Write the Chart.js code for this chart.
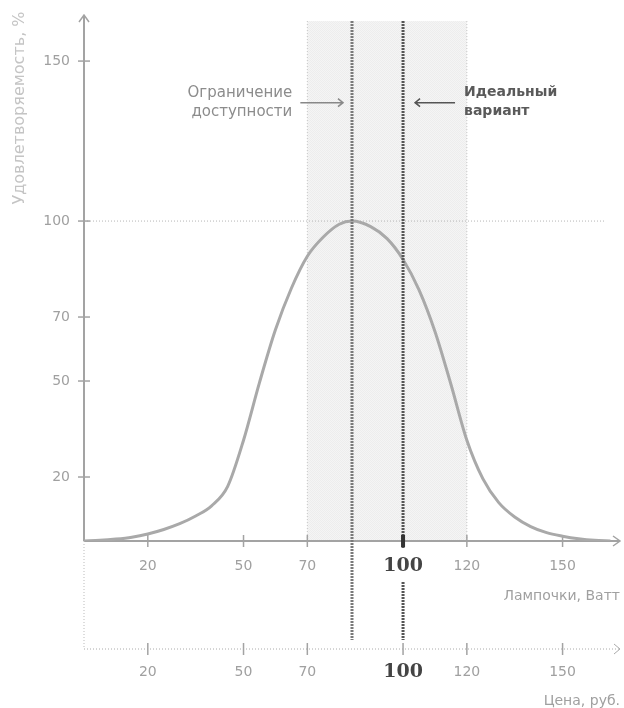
<!DOCTYPE html>
<html>
<head>
<meta charset="utf-8">
<script src="https://cdn.jsdelivr.net/npm/chart.js@4/dist/chart.umd.min.js"></script>
<style>
  html, body { margin: 0; padding: 0; background: #fff; }
  canvas { display: block; }
</style>
</head>
<body>
<canvas id="chart" width="624" height="708"></canvas>
<script>
// кривая удовлетворяемости: мощность лампочки (Вт) -> %
var watts        = [0, 5, 10, 15, 20, 25, 30, 35, 40, 45, 50, 55, 60, 65, 70, 75, 80, 84, 90, 95, 100, 105, 110, 115, 120, 125, 130, 135, 140, 145, 150, 155, 160, 165]
var satisfaction = [0, 0.2, 0.6, 1.2, 2.2, 3.6, 5.4, 7.8, 11, 17, 31.5, 49.5, 66, 79, 89, 95, 99, 100, 98.2, 94.5, 88, 78.5, 65.5, 49, 31.5, 19.5, 12, 7.5, 4.5, 2.6, 1.5, 0.7, 0.2, 0]

var xTicks = [20, 50, 70, 100, 120, 150]
var yTicks = [20, 50, 70, 100, 150]
var band = [70, 120]          // зона доступности
var bandTop = 162.5
var limitValue = 84           // ограничение доступности
var idealValue = 100          // идеальный вариант
var refLevel = 100            // пунктир 100 %
var refEnd = 163
var arrowLevel = 137

var xTitle = 'Лампочки, Ватт'
var x2Title = 'Цена, руб.'
var yTitle = 'Удовлетворяемость, %'
var limitLabel = ['Ограничение', 'доступности']
var idealLabel = ['Идеальный', 'вариант']

var AXIS = '#a3a3a3'
var TXT = '#a0a0a0'
var FONT = '"DejaVu Sans", Verdana, sans-serif'
var BOTTOM_GAP = 108   // вторая ось (цена) ниже основной

function patternFill(ctx) {
  var p = document.createElement('canvas')
  p.width = 2; p.height = 2
  var g = p.getContext('2d')
  g.fillStyle = '#f5f5f5'; g.fillRect(0, 0, 2, 2)
  g.fillStyle = '#ededed'; g.fillRect(0, 0, 1, 1); g.fillRect(1, 1, 1, 1)
  return ctx.createPattern(p, 'repeat')
}

function vline(ctx, x, y1, y2, color, width, dash) {
  ctx.save()
  ctx.strokeStyle = color; ctx.lineWidth = width; ctx.setLineDash(dash || [])
  ctx.beginPath(); ctx.moveTo(x, y1); ctx.lineTo(x, y2); ctx.stroke()
  ctx.restore()
}

function hline(ctx, x1, x2, y, color, width, dash) {
  ctx.save()
  ctx.strokeStyle = color; ctx.lineWidth = width; ctx.setLineDash(dash || [])
  ctx.beginPath(); ctx.moveTo(x1, y); ctx.lineTo(x2, y); ctx.stroke()
  ctx.restore()
}

function arrow(ctx, x1, x2, y, color) {
  var d = x2 > x1 ? -1 : 1
  ctx.save()
  ctx.strokeStyle = color; ctx.lineWidth = 1.5
  ctx.beginPath()
  ctx.moveTo(x1, y); ctx.lineTo(x2, y)
  ctx.moveTo(x2 + d * 5, y - 4); ctx.lineTo(x2, y); ctx.lineTo(x2 + d * 5, y + 4)
  ctx.stroke()
  ctx.restore()
}

var decor = {
  id: 'decor',
  beforeDatasetsDraw: function(chart) {
    var ctx = chart.ctx, x = chart.scales.x, y = chart.scales.y, a = chart.chartArea
    var y0 = y.getPixelForValue(0)

    // зона доступности
    var bx1 = x.getPixelForValue(band[0]), bx2 = x.getPixelForValue(band[1])
    var by = y.getPixelForValue(bandTop)
    ctx.save()
    ctx.fillStyle = patternFill(ctx)
    ctx.fillRect(bx1, by, bx2 - bx1, y0 - by)
    ctx.restore()
    vline(ctx, bx1, by, y0, '#c2c2c2', 1, [1, 2])
    vline(ctx, bx2, by, y0, '#c2c2c2', 1, [1, 2])

    // пунктир 100 %
    hline(ctx, a.left, x.getPixelForValue(refEnd), y.getPixelForValue(refLevel), '#b5b5b5', 1, [1, 2])

    // оси
    vline(ctx, a.left, a.top, y0, AXIS, 2)
    hline(ctx, a.left, a.right, y0, AXIS, 2)
    ctx.save()
    ctx.strokeStyle = AXIS; ctx.lineWidth = 1.5
    ctx.beginPath()
    ctx.moveTo(a.left - 5, a.top + 7); ctx.lineTo(a.left, a.top); ctx.lineTo(a.left + 5, a.top + 7)
    ctx.moveTo(a.right - 7, y0 - 5); ctx.lineTo(a.right, y0); ctx.lineTo(a.right - 7, y0 + 5)
    ctx.stroke()
    ctx.restore()

    // деления и подписи Y
    ctx.save()
    ctx.font = '14px ' + FONT
    ctx.fillStyle = TXT
    ctx.textAlign = 'right'; ctx.textBaseline = 'middle'
    yTicks.forEach(function(v) {
      var py = y.getPixelForValue(v)
      hline(ctx, a.left - 6, a.left + 6, py, AXIS, 1.5)
      ctx.fillText(String(v), a.left - 14, py)
    })
    ctx.restore()

    // деления X
    xTicks.forEach(function(v) {
      var px = x.getPixelForValue(v)
      vline(ctx, px, y0 - 6, y0 + 6, AXIS, 1.5)
    })

    // заголовок оси Y
    ctx.save()
    ctx.translate(20, 108)
    ctx.rotate(-Math.PI / 2)
    ctx.font = '16px ' + FONT
    ctx.fillStyle = '#c4c4c4'
    ctx.textAlign = 'center'; ctx.textBaseline = 'middle'
    ctx.fillText(yTitle, 0, 0)
    ctx.restore()
  },
  afterDatasetsDraw: function(chart) {
    var ctx = chart.ctx, x = chart.scales.x, y = chart.scales.y, a = chart.chartArea
    var y0 = y.getPixelForValue(0)
    var yb = y0 + BOTTOM_GAP
    var top = y.getPixelForValue(bandTop)
    var lx = x.getPixelForValue(limitValue)
    var ix = x.getPixelForValue(idealValue)

    // вертикальные линии: ограничение и идеал
    vline(ctx, lx, top, yb - 9, '#7a7a7a', 3, [2, 1])
    vline(ctx, ix, top, y0 + 7, '#555', 3, [2, 1])
    vline(ctx, ix, y0 + 41, yb - 9, '#555', 3, [2, 1])
    vline(ctx, ix, y0 - 6, y0 + 6, '#333', 4)

    // подписи X (основная и вторая ось)
    function tickLabels(py) {
      ctx.save()
      ctx.textAlign = 'center'; ctx.textBaseline = 'middle'
      xTicks.forEach(function(v) {
        var px = x.getPixelForValue(v)
        if (v === idealValue) {
          ctx.font = 'bold 19px "DejaVu Serif", Georgia, serif'
          ctx.fillStyle = '#444'
        } else {
          ctx.font = '14px ' + FONT
          ctx.fillStyle = TXT
        }
        ctx.fillText(String(v), px, py)
      })
      ctx.restore()
    }
    tickLabels(y0 + 25)
    tickLabels(yb + 23)

    // вторая ось (цена)
    vline(ctx, a.left, y0, yb, '#bbb', 1, [1, 2])
    hline(ctx, a.left, a.right, yb, '#aaa', 1, [1, 2])
    xTicks.forEach(function(v) {
      vline(ctx, x.getPixelForValue(v), yb - 6, yb + 6, AXIS, 1.5)
    })
    ctx.save()
    ctx.strokeStyle = '#aaa'; ctx.lineWidth = 1
    ctx.beginPath()
    ctx.moveTo(a.right - 6, yb - 5); ctx.lineTo(a.right, yb); ctx.lineTo(a.right - 6, yb + 5)
    ctx.stroke()
    ctx.restore()

    // названия осей X
    ctx.save()
    ctx.font = '14px ' + FONT
    ctx.fillStyle = TXT
    ctx.textAlign = 'right'; ctx.textBaseline = 'middle'
    ctx.fillText(xTitle, a.right, y0 + 55)
    ctx.fillText(x2Title, a.right, yb + 52)
    ctx.restore()

    // аннотации
    var ay = y.getPixelForValue(arrowLevel)
    arrow(ctx, x.getPixelForValue(band[0]) - 7, lx - 9, ay, '#888')
    arrow(ctx, ix + 52, ix + 12, ay, '#555')
    ctx.save()
    ctx.textBaseline = 'middle'
    ctx.font = '15px ' + FONT
    ctx.fillStyle = '#8c8c8c'
    ctx.textAlign = 'right'
    ctx.fillText(limitLabel[0], x.getPixelForValue(band[0]) - 15, ay - 10)
    ctx.fillText(limitLabel[1], x.getPixelForValue(band[0]) - 15, ay + 9)
    ctx.font = 'bold 14px ' + FONT
    ctx.fillStyle = '#5a5a5a'
    ctx.textAlign = 'left'
    ctx.fillText(idealLabel[0], ix + 61, ay - 10)
    ctx.fillText(idealLabel[1], ix + 61, ay + 9)
    ctx.restore()
  }
}

new Chart(document.getElementById('chart').getContext('2d'), {
  type: 'line'
, data: {
    datasets: [{
      label: 'Удовлетворяемость'
    , data: watts.map(function(w, i) { return { x: w, y: satisfaction[i] } })
    , borderColor: '#a9a9a9'
    , borderWidth: 3
    , pointRadius: 0
    , cubicInterpolationMode: 'monotone'
    , fill: false
    }]
  }
, options: {
    responsive: false
  , animation: false
  , devicePixelRatio: 1
  , layout: { padding: { left: 84, right: 4, top: 15, bottom: 167 } }
  , plugins: { legend: { display: false }, tooltip: { enabled: false } }
  , scales: {
      x: { type: 'linear', min: 0, max: 168, display: false }
    , y: { type: 'linear', min: 0, max: 164.4, display: false }
    }
  }
, plugins: [decor]
})
</script>
</body>
</html>
